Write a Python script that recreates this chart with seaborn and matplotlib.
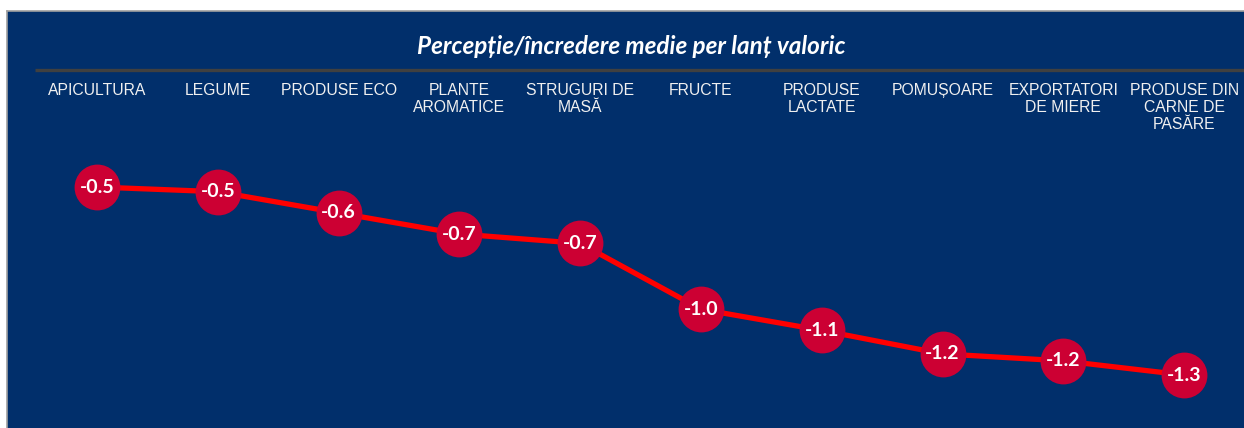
import matplotlib
matplotlib.use("Agg")
import matplotlib.pyplot as plt
import seaborn as sns
import pandas as pd
from matplotlib.transforms import blended_transform_factory

categories = ["APICULTURA", "LEGUME", "PRODUSE ECO", "PLANTE\nAROMATICE", "STRUGURI DE\nMASĂ",
              "FRUCTE", "PRODUSE\nLACTATE", "POMUȘOARE", "EXPORTATORI\nDE MIERE",
              "PRODUSE DIN\nCARNE DE\nPASĂRE"]
values = [-0.50, -0.52, -0.61, -0.70, -0.74, -1.02, -1.11, -1.21, -1.24, -1.30]
title = "Percepție/încredere medie per lanț valoric"

sns.set_theme(style="white")
plt.rcParams['font.family'] = ['DejaVu Sans']

NAVY = "#012F6B"
df = pd.DataFrame({"pos": range(len(categories)), "val": values})

fig = plt.figure(figsize=(12.44, 4.28), dpi=100, facecolor="white")
ax = fig.add_axes([7/1244, 0, 1237/1244, 417/428])
ax.set_facecolor(NAVY)

sns.lineplot(data=df, x="pos", y="val", ax=ax, color="#FF0000", linewidth=3.8,
             marker="o", markersize=33, markerfacecolor="#CC0033",
             markeredgecolor="#CC0033", markeredgewidth=0, zorder=3)

ax.set_xlim(-0.745, 9.495)
ax.set_ylim(-1.5255, 0.249)
ax.set_xticks([])
ax.set_yticks([])
ax.set_xlabel("")
ax.set_ylabel("")
for s in ["right", "bottom"]:
    ax.spines[s].set_visible(False)
for s in ["left", "top"]:
    ax.spines[s].set_color("#A0A0A0")
    ax.spines[s].set_linewidth(1.2)

for x, v in zip(df["pos"], df["val"]):
    ax.text(x, v, f"{v:.1f}", ha="center", va="center", color="white",
            fontsize=14, fontweight="bold", family=["Lato", "DejaVu Sans"], zorder=5)

trans = blended_transform_factory(ax.transData, ax.transAxes)
for i, c in enumerate(categories):
    ax.text(i, 0.827, c, transform=trans, ha="center", va="top", color="#F0F0F0",
            fontsize=11.3, family=["Liberation Sans", "DejaVu Sans"], linespacing=1.15)

ax.text(0.5045, 0.916, title, transform=ax.transAxes, ha="center", va="center",
        color="white", fontsize=17.5, fontweight="bold", fontstyle="italic",
        family=["Lato", "DejaVu Sans"])

ax.plot([(35-7)/1237, 1.0], [0.8585, 0.8585], transform=ax.transAxes,
        color="#404040", linewidth=2.4, solid_capstyle="butt", clip_on=False)

fig.savefig("out.png", dpi=100, facecolor="white")
